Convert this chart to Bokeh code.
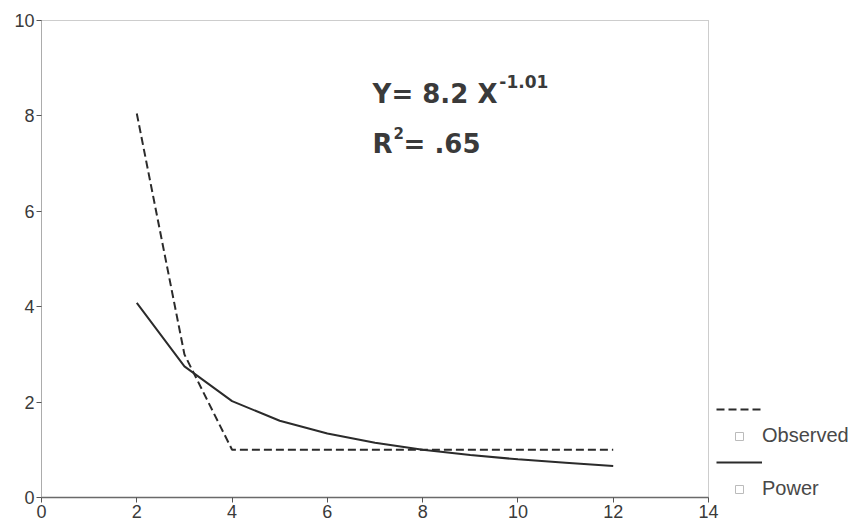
from bokeh.plotting import figure
from bokeh.models import Legend, LegendItem, Label, ColumnDataSource, FixedTicker
from bokeh.embed import file_html
from bokeh.resources import INLINE

# data
obs_x = [2, 3, 4, 5, 6, 7, 8, 9, 10, 11, 12]
obs_y = [8.05, 3.0, 1.0, 1.0, 1.0, 1.0, 1.0, 1.0, 1.0, 1.0, 1.0]
pow_x = [2, 3, 4, 5, 6, 7, 8, 9, 10, 11, 12]
pow_y = [4.08, 2.75, 2.02, 1.61, 1.34, 1.15, 1.0, 0.89, 0.80, 0.73, 0.66]
x_ticks = [0, 2, 4, 6, 8, 10, 12, 14]
y_ticks = [0, 2, 4, 6, 8, 10]
series_names = ["Observed", "Power"]

TXT = "#3a3a3a"
LINE = "#2b2b2b"

p = figure(frame_width=667, frame_height=477, x_range=(0, 14), y_range=(0, 10),
           output_backend="svg", toolbar_location=None,
           min_border_left=41, min_border_top=20, min_border_right=140, min_border_bottom=24)
p.background_fill_color = "white"
p.border_fill_color = "white"
p.grid.visible = False
p.outline_line_color = "#9a9a9a"
p.outline_line_dash = "1 1"
p.outline_line_width = 1

for ax in (p.xaxis[0], p.yaxis[0]):
    ax.major_label_text_font = "Liberation Sans"
    ax.major_label_text_font_size = "18px"
    ax.major_label_text_color = TXT
    ax.minor_tick_line_color = None
    ax.major_tick_line_color = "#555555"
    ax.major_tick_in = 0
    ax.major_tick_out = 5
    ax.major_label_standoff = 2

p.xaxis[0].ticker = FixedTicker(ticks=x_ticks)
p.yaxis[0].ticker = FixedTicker(ticks=y_ticks)
p.xaxis[0].axis_line_color = "#6a6a6a"
p.xaxis[0].axis_line_width = 1.5
p.yaxis[0].axis_line_color = "#8a8a8a"
p.yaxis[0].axis_line_dash = "1 1"

src_obs = ColumnDataSource(dict(x=obs_x, y=obs_y))
src_pow = ColumnDataSource(dict(x=pow_x, y=pow_y))
r_obs = p.line("x", "y", source=src_obs, line_color=LINE, line_width=2, line_dash="8 4")
r_pow = p.line("x", "y", source=src_pow, line_color=LINE, line_width=2)

# tiny legend markers (legend glyph only, nothing drawn in the frame)
nan = float("nan")
m_obs = p.scatter([nan], [nan], marker="square", size=6, fill_color="white", line_color="#bbbbbb")
m_pow = p.scatter([nan], [nan], marker="square", size=6, fill_color="white", line_color="#bbbbbb")

legend = Legend(items=[LegendItem(label=" ", renderers=[r_obs]),
                       LegendItem(label=series_names[0], renderers=[m_obs]),
                       LegendItem(label=" ", renderers=[r_pow]),
                       LegendItem(label=series_names[1], renderers=[m_pow])],
                location=(8, -3), orientation="vertical",
                glyph_width=46, glyph_height=20, label_height=20, label_standoff=0,
                spacing=5, padding=0, margin=0,
                border_line_color=None, background_fill_alpha=0,
                label_text_font="Liberation Sans", label_text_font_size="20px",
                label_text_color="#484848")
p.add_layout(legend, "right")

# equation annotation
EQ_FONT = "DejaVu Sans"
p.add_layout(Label(x=6.95, y=8.45, text="Y= 8.2 X", text_font=EQ_FONT, text_font_style="bold",
                   text_font_size="26px", text_color=TXT, text_baseline="alphabetic"))
p.add_layout(Label(x=9.61, y=8.72, text="-1.01", text_font=EQ_FONT, text_font_style="bold",
                   text_font_size="17px", text_color=TXT, text_baseline="alphabetic"))
p.add_layout(Label(x=6.95, y=7.42, text="R", text_font=EQ_FONT, text_font_style="bold",
                   text_font_size="26px", text_color=TXT, text_baseline="alphabetic"))
p.add_layout(Label(x=7.39, y=7.65, text="2", text_font=EQ_FONT, text_font_style="bold",
                   text_font_size="15px", text_color=TXT, text_baseline="alphabetic"))
p.add_layout(Label(x=7.60, y=7.42, text="= .65", text_font=EQ_FONT, text_font_style="bold",
                   text_font_size="26px", text_color=TXT, text_baseline="alphabetic"))

open("out.html", "w").write(file_html(p, INLINE))
